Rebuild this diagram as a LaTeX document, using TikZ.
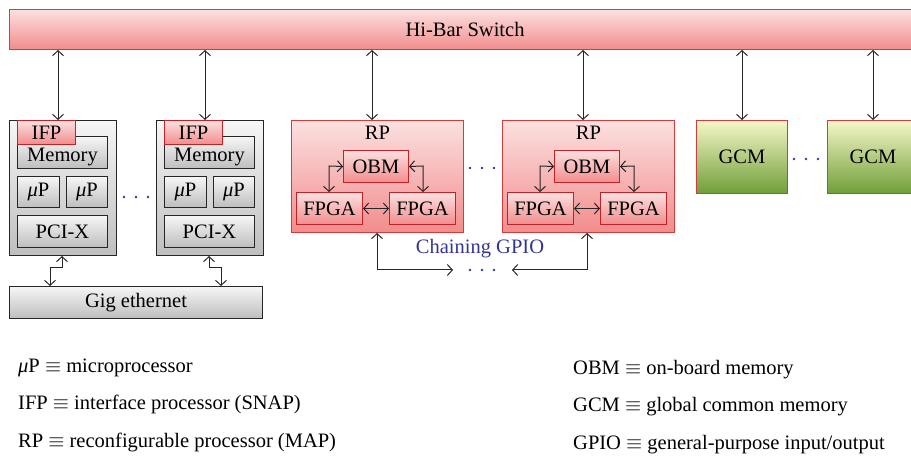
\documentclass[tikz,border=0pt]{standalone}
\usepackage{fontspec}
\setmainfont{Liberation Serif}
\usetikzlibrary{arrows.meta}
\definecolor{redtop}{RGB}{252,224,224}
\definecolor{redbot}{RGB}{242,140,140}
\definecolor{redline}{RGB}{212,60,60}
\definecolor{darkred}{RGB}{196,32,40}
\definecolor{graytop}{RGB}{246,246,246}
\definecolor{graybot}{RGB}{190,190,190}
\definecolor{greentop}{RGB}{245,247,200}
\definecolor{greenbot}{RGB}{112,158,56}
\definecolor{dotblue}{RGB}{52,52,150}
\tikzset{
  every node/.style={font=\fontsize{20.5}{22}\selectfont},
  redbox/.style={draw=redline, line width=1pt, top color=redtop, bottom color=redbot, inner sep=0pt, anchor=north west},
  redinner/.style={draw=darkred, line width=1pt, top color=redtop, bottom color=redbot, inner sep=0pt, anchor=north west},
  graybox/.style={draw=black!85, line width=1pt, top color=graytop, bottom color=graybot, inner sep=0pt, anchor=north west},
  greenbox/.style={draw=redline, line width=1pt, top color=greentop, bottom color=greenbot, inner sep=0pt, anchor=north west},
  link/.style={draw=black!85, line width=1pt, {Straight Barb[length=5pt,width=11pt]}-{Straight Barb[length=5pt,width=11pt]}},
  legend/.style={anchor=base west, inner sep=0pt},
  pics/tripledot/.style={code={
    \foreach \d in {-12,0,12} \fill[dotblue] (\d,0) circle (1.3pt);
  }},
}
\begin{document}
\begin{tikzpicture}[x=1pt,y=-1pt]
\useasboundingbox (0,0) rectangle (911,457);
\clip (0,0) rectangle (911,457);

% crossbar switch
\node[redbox, minimum width=930, minimum height=40] (switch) at (9,9) {};
\node at (465,29) {Hi-Bar Switch};

% compute nodes
\foreach \i/\ox in {1/0, 2/147} {
  \node[graybox, minimum width=107, minimum height=135] (node\i) at (9+\ox,120) {};
  \node[graybox, minimum width=90, minimum height=32, label={[yshift=-5pt]center:Memory}] (mem\i) at (17+\ox,136) {};
  \node[redinner, minimum width=58, minimum height=24] (ifp\i) at (17+\ox,120) {IFP};
  \node[graybox, minimum width=42, minimum height=31] (upa\i) at (17+\ox,176) {\textit{μ}P};
  \node[graybox, minimum width=41, minimum height=31] (upb\i) at (66+\ox,176) {\textit{μ}P};
  \node[graybox, minimum width=90, minimum height=32] (pci\i) at (17+\ox,215) {PCI-X};
  \draw[link] (switch.south -| 58+\ox,0) -- (node\i.north -| 58+\ox,0);
}
\pic at (136,197) {tripledot};

% network
\node[graybox, minimum width=253, minimum height=32] (gig) at (9,286) {Gig ethernet};
\draw[link] (node1.south -| 62,0) -- (62,268) -- (50,268) -- (gig.north -| 50,0);
\draw[link] (node2.south -| 209,0) -- (209,268) -- (221,268) -- (gig.north -| 221,0);

% reconfigurable processors
\foreach \i/\ox in {1/0, 2/211} {
  \node[redbox, minimum width=172, minimum height=112, label={[anchor=north, yshift=-3pt]north:RP}] (rp\i) at (291+\ox,120) {};
  \node[redinner, minimum width=65, minimum height=32] (obm\i) at (343+\ox,150) {OBM};
  \node[redinner, minimum width=66, minimum height=32] (fpl\i) at (296+\ox,192) {FPGA};
  \node[redinner, minimum width=66, minimum height=32] (fpr\i) at (389+\ox,192) {FPGA};
  \draw[link] (obm\i.west) -- (329+\ox,166) -- (fpl\i.north -| 329+\ox,0);
  \draw[link] (obm\i.east) -- (423+\ox,166) -- (fpr\i.north -| 423+\ox,0);
  \draw[link] (fpl\i) -- (fpr\i);
  \draw[link] (switch.south -| 372+\ox,0) -- (rp\i.north -| 372+\ox,0);
}
\pic at (482,168) {tripledot};

% chaining GPIO
\node[text=dotblue, inner sep=0pt] (gpio) at (480,249) {Chaining GPIO};
\pic at (482,270) {tripledot};
\coordinate (gl) at (453,270);
\coordinate (gr) at (512,270);
\draw[link] (rp1.south -| 377,0) -- (377,270) -- (gl);
\draw[link] (rp2.south -| 587,0) -- (587,270) -- (gr);

% global common memory
\node[greenbox, minimum width=91, minimum height=73] (gcm1) at (696,120) {GCM};
\node[greenbox, minimum width=91, minimum height=73] (gcm2) at (827,120) {GCM};
\pic at (806,159) {tripledot};
\draw[link] (switch.south -| gcm1.north) -- (gcm1.north);
\draw[link] (switch.south -| gcm2.north) -- (gcm2.north);

% legend
\node[legend] (l1) at (18,372) {\textit{μ}P $\equiv$ microprocessor};
\node[legend] (l2) at (18,409) {IFP $\equiv$ interface processor (SNAP)};
\node[legend] (l3) at (18,447) {RP $\equiv$ reconfigurable processor (MAP)};
\node[legend] (r1) at (573,374) {OBM $\equiv$ on-board memory};
\node[legend] (r2) at (573,411) {GCM $\equiv$ global common memory};
\node[legend] (r3) at (573,449) {GPIO $\equiv$ general-purpose input/output};
\end{tikzpicture}
\end{document}
